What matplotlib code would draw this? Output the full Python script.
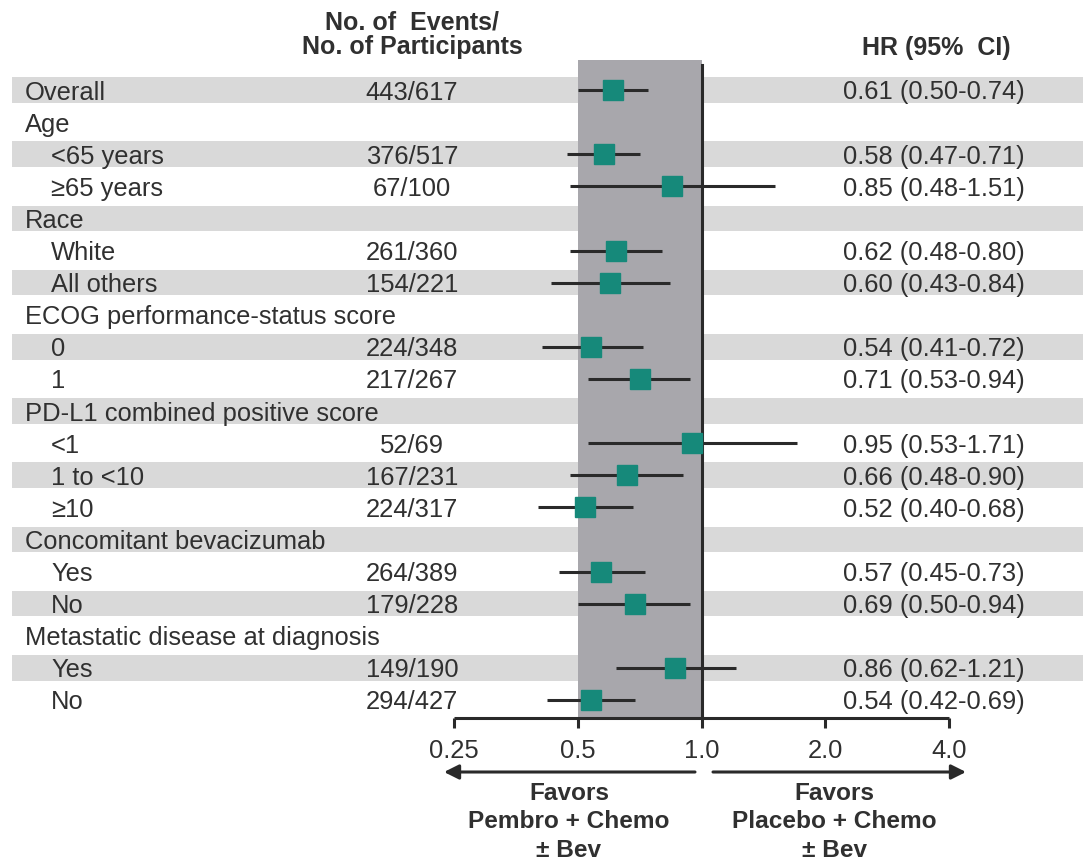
import matplotlib
matplotlib.use("Agg")
import matplotlib.pyplot as plt
import numpy as np

plt.rcParams['font.family'] = ['Liberation Sans', 'DejaVu Sans']

# ---------------- data ----------------
labels = ["Overall", "Age", "<65 years", "≥65 years", "Race", "White", "All others",
          "ECOG performance-status score", "0", "1",
          "PD-L1 combined positive score", "<1", "1 to <10", "≥10",
          "Concomitant bevacizumab", "Yes", "No",
          "Metastatic disease at diagnosis", "Yes", "No"]
is_sub = [False, False, True, True, False, True, True, False, True, True,
          False, True, True, True, False, True, True, False, True, True]
events = ["443/617", "", "376/517", "67/100", "", "261/360", "154/221", "",
          "224/348", "217/267", "", "52/69", "167/231", "224/317", "",
          "264/389", "179/228", "", "149/190", "294/427"]
hr = [0.61, None, 0.58, 0.85, None, 0.62, 0.60, None, 0.54, 0.71, None,
      0.95, 0.66, 0.52, None, 0.57, 0.69, None, 0.86, 0.54]
lo = [0.50, None, 0.47, 0.48, None, 0.48, 0.43, None, 0.41, 0.53, None,
      0.53, 0.48, 0.40, None, 0.45, 0.50, None, 0.62, 0.42]
hi = [0.74, None, 0.71, 1.51, None, 0.80, 0.84, None, 0.72, 0.94, None,
      1.71, 0.90, 0.68, None, 0.73, 0.94, None, 1.21, 0.69]
xticks = [0.25, 0.5, 1.0, 2.0, 4.0]
xticklabels = ["0.25", "0.5", "1.0", "2.0", "4.0"]

# ---------------- style ----------------
TXT = '#303030'
STRIPE = '#d9d9d9'
BAND = '#a8a7ac'
TEAL = '#16897a'
LINE = '#2a2a2a'
FS = 18.4
FSB = 18.0

W, H = 1083, 865
row0, pitch = 90.0, 32.1


def py(px):
    """pixel row (from top) -> row units"""
    return (px - row0) / pitch


fig = plt.figure(figsize=(W / 100, H / 100), dpi=100)

# background axes: x in pixels, y in row units
bg = fig.add_axes([0, 0, 1, 1])
bg.set_xlim(0, W)
bg.set_ylim(py(H), py(0))
bg.axis('off')

n = len(labels)
rows = np.arange(n)
for i in rows[::2]:
    bg.barh(i, W - 12, left=12, height=25.5 / pitch, color=STRIPE, lw=0, zorder=0)

for i in rows:
    bg.text(51 if is_sub[i] else 25, i, labels[i], ha='left', va='center_baseline',
            fontsize=FS, color=TXT)
    if events[i]:
        bg.text(412, i, events[i], ha='center', va='center_baseline', fontsize=FS, color=TXT)
    if hr[i] is not None:
        bg.text(934, i, f"{hr[i]:.2f} ({lo[i]:.2f}-{hi[i]:.2f})", ha='center',
                va='center_baseline', fontsize=FS, color=TXT)

# headers
bg.text(412, py(35), "No. of  Events/\nNo. of Participants", ha='center', va='center',
        fontsize=FSB, fontweight='bold', color=TXT, linespacing=1.05)
bg.text(936, py(48), "HR (95%  CI)", ha='center', va='center',
        fontsize=FSB, fontweight='bold', color=TXT)

# arrows and favors text
arr = dict(arrowstyle='-|>', color=LINE, lw=2.2, mutation_scale=22, shrinkA=0, shrinkB=0)
bg.annotate('', xy=(444, py(772)), xytext=(695, py(772)), arrowprops=arr)
bg.annotate('', xy=(966, py(772)), xytext=(713, py(772)), arrowprops=arr)
bg.text(569, py(822), "Favors\nPembro + Chemo\n± Bev", ha='center', va='center',
        fontsize=17.6, fontweight='bold', color=TXT, linespacing=1.32)
bg.text(834, py(822), "Favors\nPlacebo + Chemo\n± Bev", ha='center', va='center',
        fontsize=17.6, fontweight='bold', color=TXT, linespacing=1.32)

# forest axes
ax_top, ax_bot = 60, 718
ax = fig.add_axes([454 / W, 1 - ax_bot / H, (949 - 454) / W, (ax_bot - ax_top) / H])
ax.patch.set_alpha(0)
ax.set_xscale('log', base=2)
ax.set_xlim(0.25, 4)
ax.set_ylim(py(ax_bot), py(ax_top))

ax.axvspan(0.5, 1.0, color=BAND, lw=0, zorder=0)
ax.axvline(1.0, ymin=0, ymax=(ax_bot - 65) / (ax_bot - ax_top), color=LINE, lw=2.2, zorder=1)

for i in rows:
    if hr[i] is None:
        continue
    ax.plot([lo[i], hi[i]], [i, i], color=LINE, lw=2.2, zorder=2, solid_capstyle='butt')
    ax.plot([hr[i]], [i], marker='s', ms=14, color=TEAL, mec=TEAL, zorder=3, ls='none')

for s in ['top', 'left', 'right']:
    ax.spines[s].set_visible(False)
ax.spines['bottom'].set_linewidth(2.2)
ax.spines['bottom'].set_color(LINE)
ax.spines['bottom'].set_capstyle('butt')
ax.set_yticks([])
ax.set_xticks(xticks)
ax.set_xticklabels(xticklabels)
ax.minorticks_off()
ax.tick_params(axis='x', direction='out', length=7, width=2.2, color=LINE,
               labelsize=FS, labelcolor=TXT, pad=8)

fig.savefig('out.png', dpi=100)
